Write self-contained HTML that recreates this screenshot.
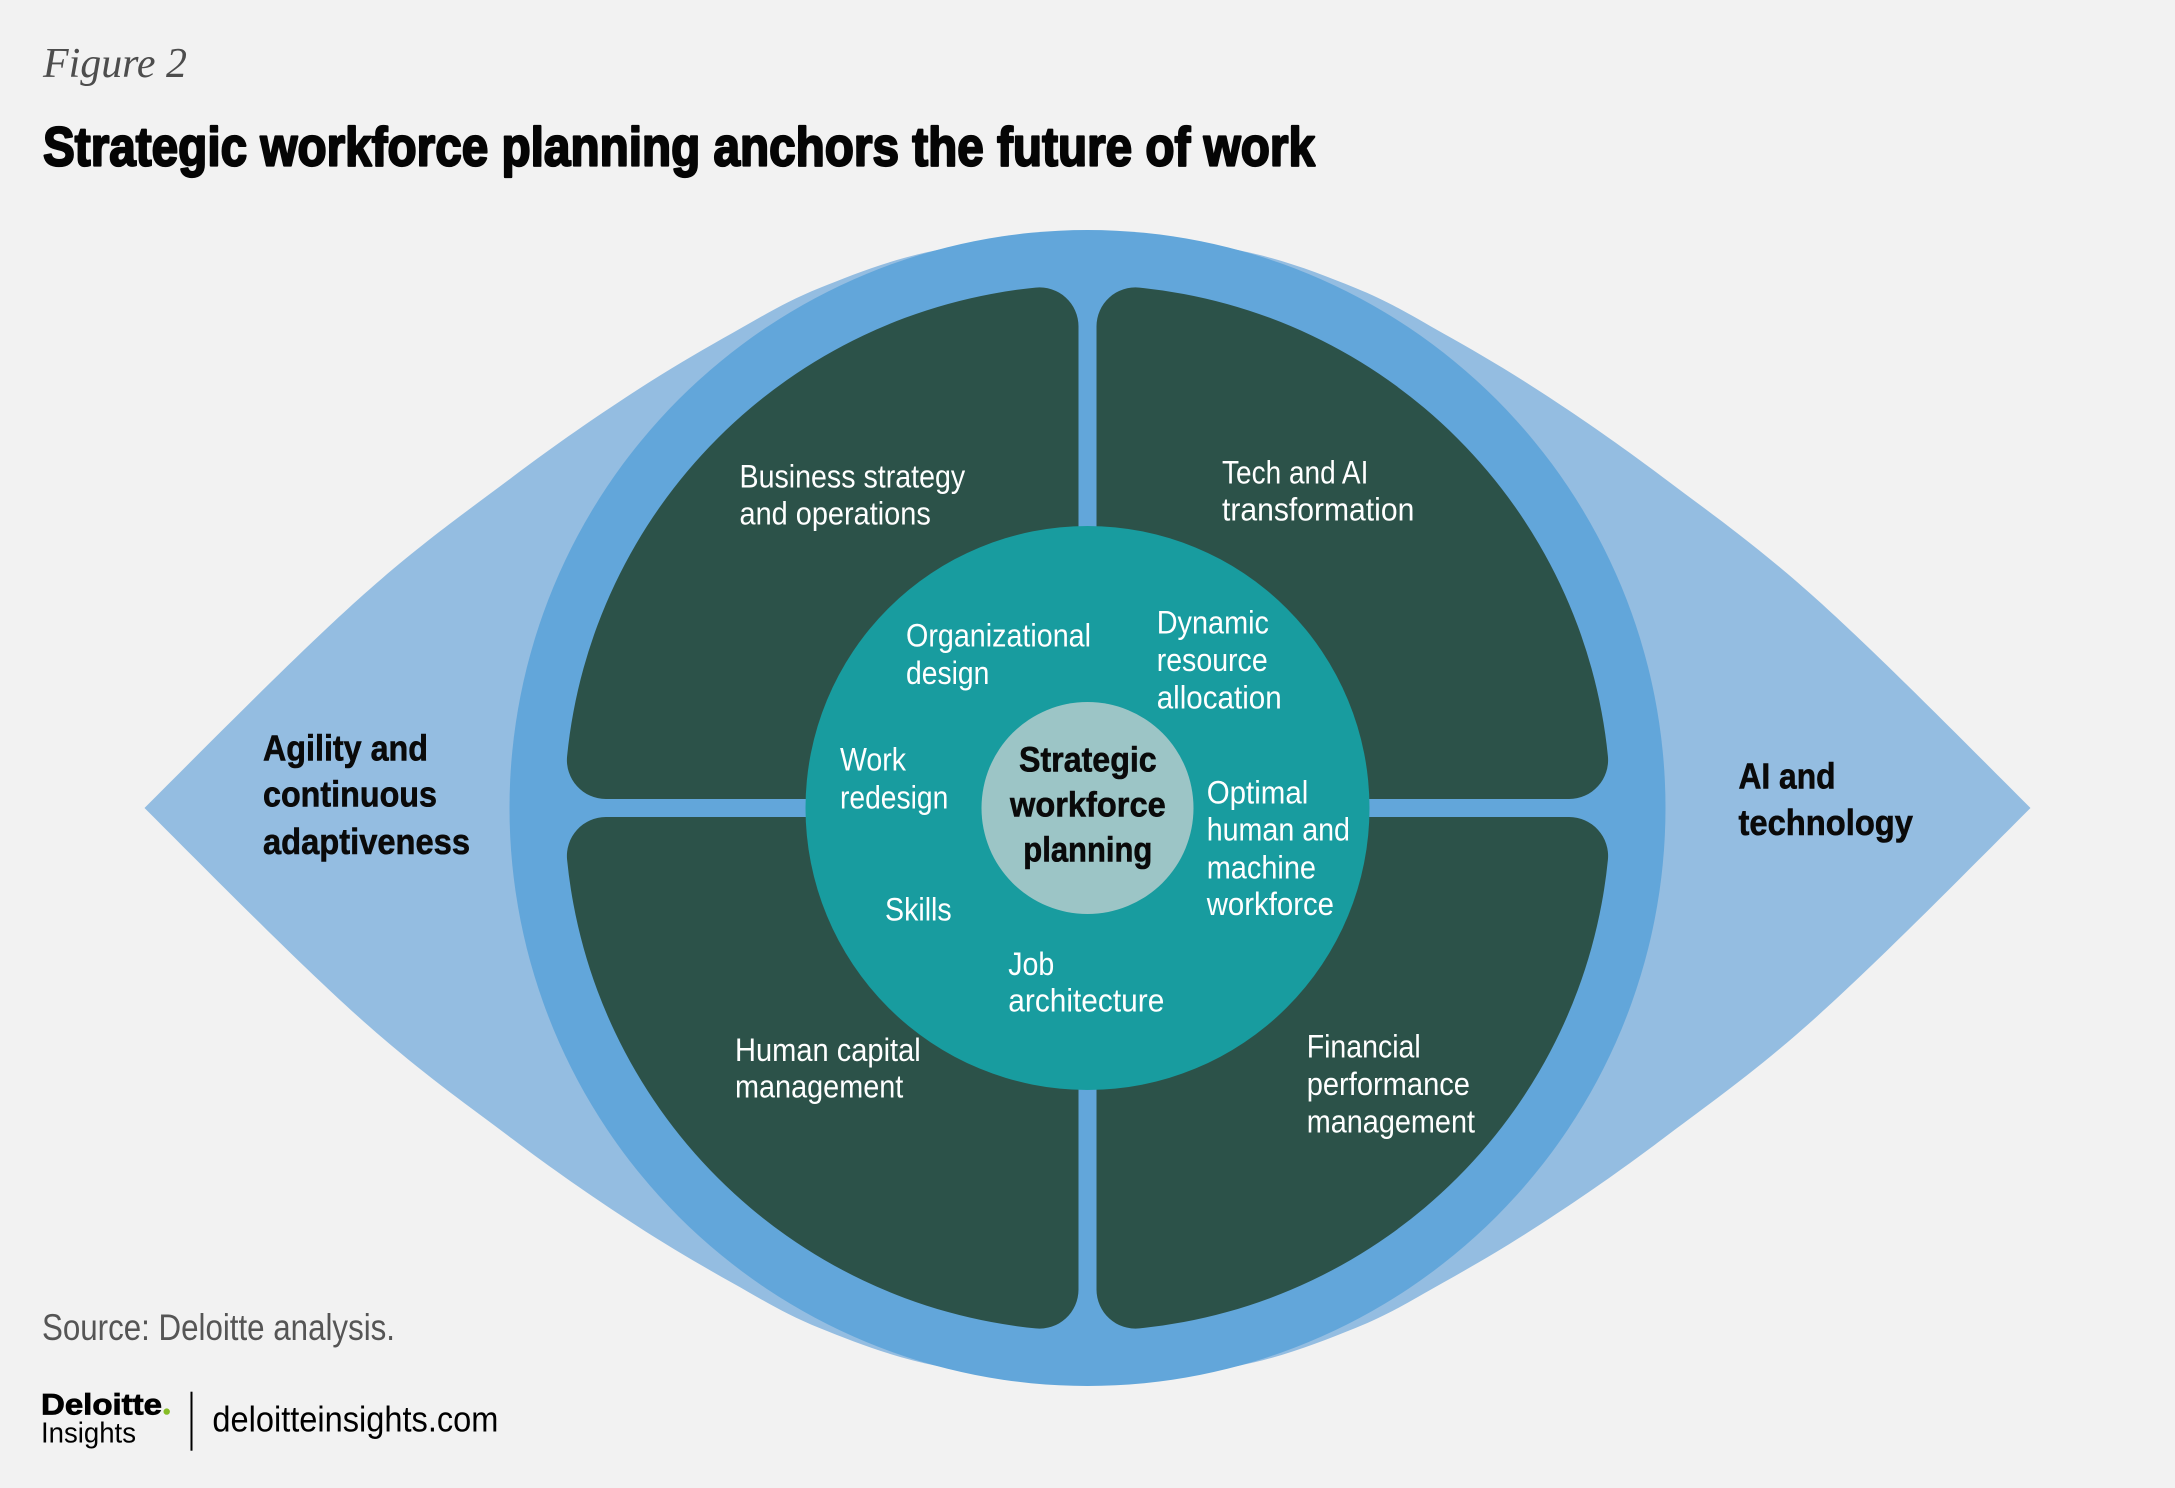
<!DOCTYPE html>
<html>
<head>
<meta charset="utf-8">
<style>
  html,body{margin:0;padding:0;background:#f2f2f2;}
  svg{display:block;}
  .lab{font-family:"Liberation Sans Narrow","Liberation Sans",sans-serif;font-size:32px;fill:#ffffff;}
  .bl{font-family:"Liberation Sans Narrow","Liberation Sans",sans-serif;font-size:36px;font-weight:bold;fill:#0a0a0a;stroke:#0a0a0a;stroke-width:0.6px;}
  .cb{font-family:"Liberation Sans Narrow","Liberation Sans",sans-serif;font-size:35px;font-weight:bold;fill:#0a0a0a;stroke:#0a0a0a;stroke-width:0.6px;}
</style>
</head>
<body>
<svg width="2175" height="1488" viewBox="0 0 2175 1488" xmlns="http://www.w3.org/2000/svg">
  <rect width="2175" height="1488" fill="#f2f2f2"/>

  <!-- Header -->
  <text x="43" y="77" font-family="'Liberation Serif',serif" font-style="italic" font-size="42" fill="#4d4d4d" textLength="144" lengthAdjust="spacingAndGlyphs">Figure 2</text>
  <text x="43" y="165.5" font-family="'Liberation Sans Narrow','Liberation Sans',sans-serif" font-weight="bold" font-size="55" fill="#050505" stroke="#050505" stroke-width="2.2" stroke-linejoin="round" textLength="1272" lengthAdjust="spacingAndGlyphs">Strategic workforce planning anchors the future of work</text>

  <!-- Diagram -->
  <g transform="translate(1087.5,808)">
    <path fill="#94bde1" d="M-943,0 C-873,-70 -791.3,-152.8 -730,-208 C-668.7,-263.2 -620.8,-296.5 -575,-331 C-529.2,-365.5 -491.7,-391 -455,-415 C-418.3,-439 -386.2,-457.5 -355,-475 C-323.8,-492.5 -302.2,-506.2 -268,-520 C-233.8,-533.8 -194.7,-549.3 -150,-558 C-105.3,-566.7 -50,-572 0,-572 C50,-572 105.3,-566.7 150,-558 C194.7,-549.3 233.8,-533.8 268,-520 C302.2,-506.2 323.8,-492.5 355,-475 C386.2,-457.5 418.3,-439 455,-415 C491.7,-391 529.2,-365.5 575,-331 C620.8,-296.5 668.7,-263.2 730,-208 C791.3,-152.8 873,-70 943,0 C873,70 791.3,152.8 730,208 C668.7,263.2 620.8,296.5 575,331 C529.2,365.5 491.7,391 455,415 C418.3,439 386.2,457.5 355,475 C323.8,492.5 302.2,506.2 268,520 C233.8,533.8 194.7,549.3 150,558 C105.3,566.7 50,572 0,572 C-50,572 -105.3,566.7 -150,558 C-194.7,549.3 -233.8,533.8 -268,520 C-302.2,506.2 -323.8,492.5 -355,475 C-386.2,457.5 -418.3,439 -455,415 C-491.7,391 -529.2,365.5 -575,331 C-620.8,296.5 -668.7,263.2 -730,208 C-791.3,152.8 -873,70 -943,0 Z"/>
    <circle r="578" fill="#62a6da"/>
    <g fill="#2c5249">
      <path d="M9,-9 L9,-481.6 A39,39 0 0 1 51.9,-520.4 A523,523 0 0 1 520.4,-51.9 A39,39 0 0 1 481.6,-9 Z"/>
      <path d="M-9,-9 L-9,-481.6 A39,39 0 0 0 -51.9,-520.4 A523,523 0 0 0 -520.4,-51.9 A39,39 0 0 0 -481.6,-9 Z"/>
      <path d="M9,9 L9,481.6 A39,39 0 0 0 51.9,520.4 A523,523 0 0 0 520.4,51.9 A39,39 0 0 0 481.6,9 Z"/>
      <path d="M-9,9 L-9,481.6 A39,39 0 0 1 -51.9,520.4 A523,523 0 0 1 -520.4,51.9 A39,39 0 0 1 -481.6,9 Z"/>
    </g>
    <circle r="282" fill="#189c9f"/>
    <circle r="106" fill="#9cc5c6"/>
  </g>

  <!-- Side labels -->
  <text class="bl" x="263" y="760.7" textLength="165" lengthAdjust="spacingAndGlyphs">Agility and</text>
  <text class="bl" x="263" y="806.7" textLength="174" lengthAdjust="spacingAndGlyphs">continuous</text>
  <text class="bl" x="263" y="854" textLength="207" lengthAdjust="spacingAndGlyphs">adaptiveness</text>

  <text class="bl" x="1738.5" y="788.3" textLength="97" lengthAdjust="spacingAndGlyphs">AI and</text>
  <text class="bl" x="1738.5" y="835" textLength="174.5" lengthAdjust="spacingAndGlyphs">technology</text>

  <!-- Quadrant labels -->
  <text class="lab" x="739.5" y="487.3" textLength="225.7" lengthAdjust="spacingAndGlyphs">Business strategy</text>
  <text class="lab" x="739.5" y="524.5" textLength="191.3" lengthAdjust="spacingAndGlyphs">and operations</text>

  <text class="lab" x="1222" y="483.3" textLength="146.4" lengthAdjust="spacingAndGlyphs">Tech and AI</text>
  <text class="lab" x="1222" y="520.7" textLength="192.3" lengthAdjust="spacingAndGlyphs">transformation</text>

  <text class="lab" x="735" y="1061" textLength="185.7" lengthAdjust="spacingAndGlyphs">Human capital</text>
  <text class="lab" x="735" y="1097.7" textLength="168.3" lengthAdjust="spacingAndGlyphs">management</text>

  <text class="lab" x="1306.7" y="1057.7" textLength="114" lengthAdjust="spacingAndGlyphs">Financial</text>
  <text class="lab" x="1306.7" y="1095" textLength="163.3" lengthAdjust="spacingAndGlyphs">performance</text>
  <text class="lab" x="1306.7" y="1132.7" textLength="168.3" lengthAdjust="spacingAndGlyphs">management</text>

  <!-- Teal ring labels -->
  <text class="lab" x="906" y="646.7" textLength="185" lengthAdjust="spacingAndGlyphs">Organizational</text>
  <text class="lab" x="906" y="684" textLength="83.3" lengthAdjust="spacingAndGlyphs">design</text>

  <text class="lab" x="1156.7" y="633.3" textLength="112.3" lengthAdjust="spacingAndGlyphs">Dynamic</text>
  <text class="lab" x="1156.7" y="671" textLength="111" lengthAdjust="spacingAndGlyphs">resource</text>
  <text class="lab" x="1156.7" y="708.3" textLength="125" lengthAdjust="spacingAndGlyphs">allocation</text>

  <text class="lab" x="840" y="770.7" textLength="66" lengthAdjust="spacingAndGlyphs">Work</text>
  <text class="lab" x="840" y="808.3" textLength="108.3" lengthAdjust="spacingAndGlyphs">redesign</text>

  <text class="lab" x="885" y="920.7" textLength="66.7" lengthAdjust="spacingAndGlyphs">Skills</text>

  <text class="lab" x="1206.7" y="803.3" textLength="101.6" lengthAdjust="spacingAndGlyphs">Optimal</text>
  <text class="lab" x="1206.7" y="840.7" textLength="143.3" lengthAdjust="spacingAndGlyphs">human and</text>
  <text class="lab" x="1206.7" y="878.3" textLength="109.3" lengthAdjust="spacingAndGlyphs">machine</text>
  <text class="lab" x="1206.7" y="915" textLength="127.3" lengthAdjust="spacingAndGlyphs">workforce</text>

  <text class="lab" x="1008.3" y="975" textLength="46" lengthAdjust="spacingAndGlyphs">Job</text>
  <text class="lab" x="1008.3" y="1011.7" textLength="156" lengthAdjust="spacingAndGlyphs">architecture</text>

  <!-- Center -->
  <text class="cb" x="1019" y="771.7" textLength="137.7" lengthAdjust="spacingAndGlyphs">Strategic</text>
  <text class="cb" x="1010" y="816.7" textLength="155.7" lengthAdjust="spacingAndGlyphs">workforce</text>
  <text class="cb" x="1023.3" y="861.7" textLength="129" lengthAdjust="spacingAndGlyphs">planning</text>

  <!-- Footer -->
  <text x="42" y="1340" font-family="'Liberation Sans Narrow','Liberation Sans',sans-serif" font-size="37" fill="#555555" textLength="353" lengthAdjust="spacingAndGlyphs">Source: Deloitte analysis.</text>

  <text x="41" y="1414.3" font-family="'Liberation Sans',sans-serif" font-weight="bold" font-size="30" fill="#000000" stroke="#000000" stroke-width="0.8" textLength="121" lengthAdjust="spacingAndGlyphs">Deloitte</text>
  <circle cx="166.7" cy="1411.6" r="3.2" fill="#86bc25"/>
  <text x="41" y="1442.3" font-family="'Liberation Sans Narrow','Liberation Sans',sans-serif" font-size="29" fill="#000000" textLength="95" lengthAdjust="spacingAndGlyphs">Insights</text>
  <rect x="190.5" y="1391.7" width="2" height="59" fill="#000000"/>
  <text x="212.4" y="1431.7" font-family="'Liberation Sans Narrow','Liberation Sans',sans-serif" font-size="36" fill="#000000" textLength="286" lengthAdjust="spacingAndGlyphs">deloitteinsights.com</text>
</svg>
</body>
</html>
